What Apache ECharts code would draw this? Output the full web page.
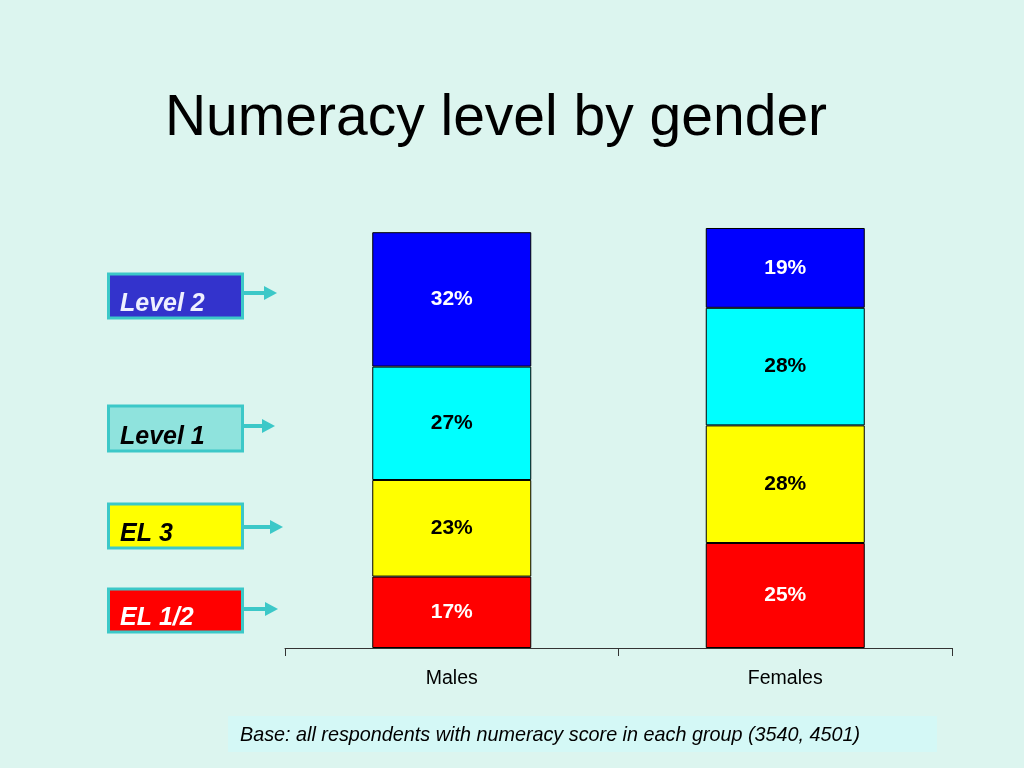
<!DOCTYPE html>
<html>
<head>
<meta charset="utf-8">
<style>
html,body{margin:0;padding:0;background:#dcf5ef;}
#chart{width:1024px;height:768px;}
</style>
<script src="https://cdn.jsdelivr.net/npm/echarts@6/dist/echarts.min.js"></script>
</head>
<body>
<div id="chart"></div>
<script>
var categories = ['Males', 'Females'];
var el12 = [17, 25];
var el3 = [23, 28];
var level1 = [27, 28];
var level2 = [32, 19];
var seriesNames = ['EL 1/2', 'EL 3', 'Level 1', 'Level 2'];

var chart = echarts.init(document.getElementById('chart'));
var font = 'Liberation Sans, Arial, Helvetica, sans-serif';

function barSeries(name, data, color, labelColor) {
  return {
    name: name,
    type: 'bar',
    stack: 'total',
    data: data,
    barWidth: 159,
    itemStyle: { color: color, borderColor: '#000', borderWidth: 1 },
    label: {
      show: true,
      position: 'inside',
      formatter: '{c}%',
      color: labelColor,
      fontFamily: font,
      fontWeight: 'bold',
      fontSize: 21
    }
  };
}

function legendBox(y, h, fill, text, textColor, arrowY, arrowTip) {
  return [
    {
      type: 'rect',
      shape: { x: 108.5, y: y, width: 134, height: h },
      style: { fill: fill, stroke: '#3cc8c8', lineWidth: 3 }
    },
    {
      type: 'text',
      x: 120, y: y + h - 14,
      style: {
        text: text, fill: textColor,
        font: 'italic bold 25px ' + font,
        textVerticalAlign: 'middle'
      }
    },
    {
      type: 'line',
      shape: { x1: 244, y1: arrowY, x2: arrowTip - 10, y2: arrowY },
      style: { stroke: '#3cc8c8', lineWidth: 4 }
    },
    {
      type: 'polygon',
      shape: { points: [[arrowTip - 13, arrowY - 7], [arrowTip, arrowY], [arrowTip - 13, arrowY + 7]] },
      style: { fill: '#3cc8c8' }
    }
  ];
}

var graphics = [
  {
    type: 'text',
    x: 496, y: 119,
    style: {
      text: 'Numeracy level by gender', fill: '#000',
      font: '57px ' + font,
      textAlign: 'center', textVerticalAlign: 'middle'
    }
  },
  {
    type: 'rect',
    shape: { x: 228, y: 716, width: 709, height: 36 },
    style: { fill: '#d4f8f6' }
  },
  {
    type: 'text',
    x: 240, y: 735,
    style: {
      text: 'Base: all respondents with numeracy score in each group (3540, 4501)',
      fill: '#000',
      font: 'italic 19.8px ' + font,
      textVerticalAlign: 'middle'
    }
  }
];
graphics = graphics
  .concat(legendBox(274, 44, '#3333cc', 'Level 2', '#eef0ff', 293, 277))
  .concat(legendBox(406, 45, '#8fe3dd', 'Level 1', '#000', 426, 275))
  .concat(legendBox(504, 44, '#ffff00', 'EL 3', '#000', 527, 283))
  .concat(legendBox(589, 43, '#ff0000', 'EL 1/2', '#fff', 609, 278));

chart.setOption({
  backgroundColor: '#dcf5ef',
  animation: false,
  grid: { left: 285, right: 72, top: 228, bottom: 120 },
  xAxis: {
    type: 'category',
    data: categories,
    boundaryGap: true,
    axisLine: { show: true, lineStyle: { color: '#333', width: 1 } },
    axisTick: { show: true, length: 8, lineStyle: { color: '#333' } },
    axisLabel: { color: '#000', fontFamily: font, fontSize: 19.5, margin: 21 }
  },
  yAxis: {
    type: 'value', min: 0, max: 100, show: false,
    splitLine: { show: false }
  },
  series: [
    barSeries(seriesNames[0], el12, '#ff0000', '#fff'),
    barSeries(seriesNames[1], el3, '#ffff00', '#000'),
    barSeries(seriesNames[2], level1, '#00ffff', '#000'),
    barSeries(seriesNames[3], level2, '#0000ff', '#fff')
  ],
  graphic: graphics
});
</script>
</body>
</html>
